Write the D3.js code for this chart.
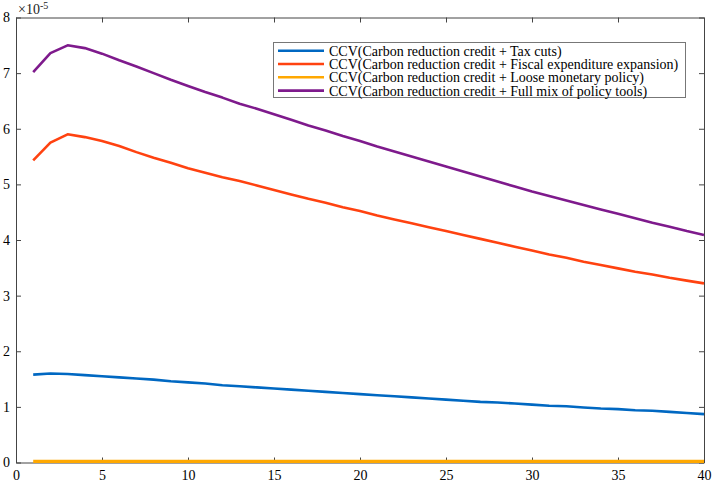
<!DOCTYPE html>
<html>
<head>
<meta charset="utf-8">
<script src="https://cdn.jsdelivr.net/npm/d3@7"></script>
<style>
  body { margin: 0; background: #fff; }
  svg { display: block; font-family: "Liberation Serif", "DejaVu Serif", serif; }
</style>
</head>
<body>
<svg width="713" height="482"></svg>
<script>
// periods 1..40
var periods = d3.range(1, 41);

var seriesNames = [
  "CCV(Carbon reduction credit + Tax cuts)",
  "CCV(Carbon reduction credit + Fiscal expenditure expansion)",
  "CCV(Carbon reduction credit + Loose monetary policy)",
  "CCV(Carbon reduction credit + Full mix of policy tools)"
];
var seriesColors = ["#0068c2", "#ff4210", "#ffa800", "#7e1a8c"];

// values in units of 1e-5
var taxCuts = [1.58, 1.60, 1.59, 1.57, 1.55, 1.53, 1.51, 1.49, 1.46, 1.44,
               1.42, 1.39, 1.37, 1.35, 1.33, 1.31, 1.29, 1.27, 1.25, 1.23,
               1.21, 1.19, 1.17, 1.15, 1.13, 1.11, 1.09, 1.08, 1.06, 1.04,
               1.02, 1.01, 0.99, 0.97, 0.96, 0.94, 0.93, 0.91, 0.89, 0.87];
var fiscal = [5.43, 5.75, 5.90, 5.85, 5.78, 5.69, 5.58, 5.48, 5.39, 5.29,
              5.21, 5.13, 5.06, 4.98, 4.90, 4.82, 4.74, 4.67, 4.59, 4.52,
              4.44, 4.37, 4.30, 4.23, 4.16, 4.09, 4.02, 3.95, 3.88, 3.81,
              3.74, 3.68, 3.61, 3.55, 3.49, 3.43, 3.38, 3.32, 3.27, 3.22];
var monetary = [0.02, 0.02, 0.02, 0.02, 0.02, 0.02, 0.02, 0.02, 0.02, 0.02,
                0.02, 0.02, 0.02, 0.02, 0.02, 0.02, 0.02, 0.02, 0.02, 0.02,
                0.02, 0.02, 0.02, 0.02, 0.02, 0.02, 0.02, 0.02, 0.02, 0.02,
                0.02, 0.02, 0.02, 0.02, 0.02, 0.02, 0.02, 0.02, 0.02, 0.02];
var fullMix = [7.02, 7.36, 7.50, 7.45, 7.35, 7.23, 7.12, 7.00, 6.88, 6.77,
               6.66, 6.56, 6.45, 6.36, 6.26, 6.16, 6.06, 5.97, 5.87, 5.78,
               5.68, 5.59, 5.50, 5.41, 5.32, 5.23, 5.14, 5.05, 4.96, 4.87,
               4.79, 4.71, 4.63, 4.55, 4.47, 4.39, 4.31, 4.24, 4.16, 4.09];

var xTicks = [0, 5, 10, 15, 20, 25, 30, 35, 40];
var yTicks = [0, 1, 2, 3, 4, 5, 6, 7, 8];

var allSeries = [taxCuts, fiscal, monetary, fullMix];

var plotLeft = 16, plotRight = 704, plotTop = 17.5, plotBottom = 462.5;

var svg = d3.select("svg");

var x = d3.scaleLinear().domain([0, 40]).range([plotLeft, plotRight]);
var y = d3.scaleLinear().domain([0, 8]).range([plotBottom, plotTop]);

var axisColor = "#444";

function styleAxis(g) {
  g.selectAll(".domain").attr("stroke", axisColor);
  g.selectAll(".tick line").attr("stroke", axisColor);
  g.selectAll(".tick text").attr("fill", "#000").style("font-size", "14px");
  g.attr("font-family", null);
}

// bottom axis
svg.append("g")
  .attr("transform", "translate(0," + plotBottom + ")")
  .call(d3.axisBottom(x).tickValues(xTicks).tickSizeInner(-5).tickSizeOuter(0).tickPadding(8))
  .call(styleAxis);

// top axis (ticks only)
svg.append("g")
  .attr("transform", "translate(0," + plotTop + ")")
  .call(d3.axisTop(x).tickValues(xTicks).tickSizeInner(-5).tickSizeOuter(0).tickFormat(""))
  .call(styleAxis);

// left axis
svg.append("g")
  .attr("transform", "translate(" + plotLeft + ",0)")
  .call(d3.axisLeft(y).tickValues(yTicks).tickSizeInner(-5).tickSizeOuter(0).tickPadding(6))
  .call(styleAxis);

// right axis (ticks only)
svg.append("g")
  .attr("transform", "translate(" + plotRight + ",0)")
  .call(d3.axisRight(y).tickValues(yTicks).tickSizeInner(-5).tickSizeOuter(0).tickFormat(""))
  .call(styleAxis);

// exponent label
var expo = svg.append("text")
  .attr("x", plotLeft + 2)
  .attr("y", 14)
  .style("font-size", "14px")
  .attr("fill", "#222");
expo.append("tspan").text("\u00d710");
expo.append("tspan").attr("dy", -5).style("font-size", "10px").text("-5");

// lines
var line = d3.line()
  .x(function(d, i) { return x(periods[i]); })
  .y(function(d) { return y(d); });

svg.append("g")
  .selectAll("path")
  .data(allSeries)
  .enter()
  .append("path")
  .attr("d", line)
  .attr("fill", "none")
  .attr("stroke", function(d, i) { return seriesColors[i]; })
  .attr("stroke-width", function(d, i) { return i === 2 ? 3.2 : 2.6; })
  .attr("stroke-linejoin", "round");

// legend
var legend = svg.append("g");
legend.append("rect")
  .attr("x", 273.5)
  .attr("y", 42.5)
  .attr("width", 412)
  .attr("height", 55)
  .attr("fill", "#fff")
  .attr("stroke", "#777")
  .attr("stroke-width", 1);

var rows = legend.selectAll("g.row")
  .data(seriesNames)
  .enter()
  .append("g")
  .attr("class", "row")
  .attr("transform", function(d, i) { return "translate(0," + (50.7 + i * 13.3) + ")"; });

rows.append("line")
  .attr("x1", 278)
  .attr("x2", 324)
  .attr("y1", 0)
  .attr("y2", 0)
  .attr("stroke", function(d, i) { return seriesColors[i]; })
  .attr("stroke-width", 2.6);

rows.append("text")
  .attr("x", 329)
  .attr("y", 0)
  .attr("dy", "0.35em")
  .style("font-size", "14px")
  .attr("fill", "#000")
  .text(function(d) { return d; });
</script>
</body>
</html>
